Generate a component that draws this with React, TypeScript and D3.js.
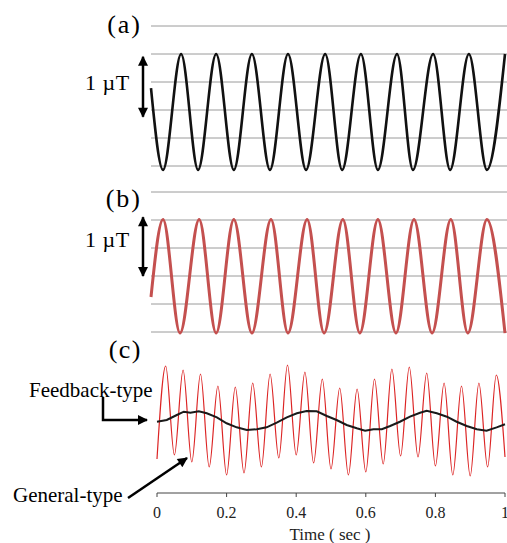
import React from 'react';
import * as d3 from 'd3';

const width = 507;
const height = 543;

// (a) sinusoid field, extrema (time in sec, field in µT)
const aTimes = [0, 0.034, 0.085, 0.133, 0.184, 0.234, 0.285, 0.336, 0.387, 0.438, 0.492, 0.54, 0.593, 0.641, 0.695, 0.74, 0.797, 0.845, 0.898, 0.949, 1.0];
const aValues = [0.39, -1.07, 1.0, -1.07, 1.0, -1.07, 1.0, -1.07, 1.0, -1.07, 1.0, -1.07, 1.0, -1.07, 1.0, -1.07, 1.0, -1.07, 1.0, -1.07, 1.0];

// (b) feedback-type output
const bTimes = [0, 0.034, 0.082, 0.136, 0.184, 0.234, 0.285, 0.339, 0.387, 0.441, 0.489, 0.542, 0.59, 0.641, 0.692, 0.743, 0.794, 0.847, 0.895, 0.949, 1.0];
const bValues = [-0.375, 1.01, -1.02, 1.01, -1.02, 1.01, -1.02, 1.01, -1.02, 1.01, -1.02, 1.01, -1.02, 1.01, -1.02, 1.01, -1.02, 1.01, -1.02, 1.01, -1.02];

// (c) general-type (red) extrema
const cRedTimes = [0, 0.025, 0.05, 0.075, 0.1, 0.125, 0.15, 0.175, 0.2, 0.225, 0.25, 0.275, 0.3, 0.325, 0.35, 0.375, 0.4, 0.425, 0.45, 0.475, 0.5, 0.525, 0.55, 0.575, 0.6, 0.625, 0.65, 0.675, 0.7, 0.725, 0.75, 0.775, 0.8, 0.825, 0.85, 0.875, 0.9, 0.925, 0.95, 0.975, 1.0];
const cRedValues = [-0.679, 0.982, -0.607, 0.911, -0.732, 0.839, -0.821, 0.625, -0.964, 0.607, -0.929, 0.679, -0.821, 0.839, -0.661, 1.0, -0.607, 0.875, -0.75, 0.75, -0.857, 0.589, -0.964, 0.571, -0.911, 0.75, -0.768, 0.929, -0.625, 0.964, -0.643, 0.857, -0.804, 0.679, -0.964, 0.625, -0.982, 0.679, -0.821, 0.821, -0.643];

// (c) feedback-type (black) residual
const cBlackTimes = [0, 0.028, 0.057, 0.077, 0.096, 0.12, 0.143, 0.172, 0.2, 0.229, 0.258, 0.287, 0.315, 0.344, 0.373, 0.402, 0.43, 0.459, 0.488, 0.516, 0.545, 0.574, 0.598, 0.622, 0.646, 0.67, 0.698, 0.727, 0.756, 0.775, 0.804, 0.833, 0.861, 0.89, 0.919, 0.947, 0.976, 1.0];
const cBlackValues = [-0.013, 0.018, 0.107, 0.166, 0.148, 0.173, 0.137, 0.066, -0.041, -0.113, -0.161, -0.148, -0.113, -0.03, 0.066, 0.137, 0.179, 0.173, 0.089, 0.018, -0.071, -0.13, -0.173, -0.148, -0.148, -0.089, -0.013, 0.077, 0.148, 0.184, 0.137, 0.077, -0.013, -0.089, -0.148, -0.173, -0.113, -0.059];

const gridValues = [1.5, 1, 0.5, 0, -0.5, -1];
const timeTicks = [0, 0.2, 0.4, 0.6, 0.8, 1];

const serif = '"Liberation Serif", "Times New Roman", serif';

export default function App() {
  const xTop = d3.scaleLinear([0, 1], [151, 505]);
  const x = d3.scaleLinear([0, 1], [157, 505]);
  const yA = d3.scaleLinear([0, 1], [110, 54]);
  const yB = d3.scaleLinear([0, 1], [276, 220]);
  const yC = d3.scaleLinear([0, 1], [421, 365]);

  const pts = (ts: number[], vs: number[]) => ts.map((t, i) => [t, vs[i]] as [number, number]);

  const lineA = d3.line<[number, number]>().x(d => xTop(d[0])).y(d => yA(d[1])).curve(d3.curveMonotoneX);
  const lineB = d3.line<[number, number]>().x(d => xTop(d[0])).y(d => yB(d[1])).curve(d3.curveMonotoneX);
  const lineCRed = d3.line<[number, number]>().x(d => x(d[0])).y(d => yC(d[1])).curve(d3.curveMonotoneX);
  const lineCBlack = d3.line<[number, number]>().x(d => x(d[0])).y(d => yC(d[1]));

  const axisY = 493;

  return (
    <svg
      width={width}
      height={height}
      style={{ position: 'absolute', left: 0, top: 0, background: '#fff' }}
      fontFamily={serif}
    >
      <defs>
        <marker id="head" viewBox="0 0 10 10" refX="9" refY="5" markerUnits="userSpaceOnUse"
          markerWidth="13" markerHeight="10" orient="auto-start-reverse">
          <path d="M0,0 L10,5 L0,10 z" fill="#000" />
        </marker>
      </defs>

      {/* panel (a) */}
      <g className="panel-a">
        {gridValues.map(v => (
          <line key={v} x1={151} x2={width} y1={yA(v)} y2={yA(v)} stroke="#9a9a9a" strokeWidth={1} />
        ))}
        <path d={lineA(pts(aTimes, aValues)) || ''} fill="none" stroke="#111" strokeWidth={2.6} />
        <text x={142} y={33} fontSize={26} letterSpacing={2} textAnchor="end">(a)</text>
        <text x={85} y={90} fontSize={22} letterSpacing={0.5}>1 µT</text>
        <line x1={143} x2={143} y1={yA(0.95)} y2={yA(-0.12)} stroke="#000" strokeWidth={2.5}
          markerStart="url(#head)" markerEnd="url(#head)" />
      </g>

      {/* panel (b) */}
      <g className="panel-b">
        {gridValues.map(v => (
          <line key={v} x1={151} x2={width} y1={yB(v)} y2={yB(v)} stroke="#9a9a9a" strokeWidth={1} />
        ))}
        <path d={lineB(pts(bTimes, bValues)) || ''} fill="none" stroke="#c4504f" strokeWidth={3} />
        <text x={142} y={207} fontSize={26} letterSpacing={2} textAnchor="end">(b)</text>
        <text x={85} y={247} fontSize={22} letterSpacing={0.5}>1 µT</text>
        <line x1={143} x2={143} y1={yB(1.05)} y2={yB(0)} stroke="#000" strokeWidth={2.5}
          markerStart="url(#head)" markerEnd="url(#head)" />
      </g>

      {/* panel (c) */}
      <g className="panel-c">
        <path d={lineCRed(pts(cRedTimes, cRedValues)) || ''} fill="none" stroke="#dc2424" strokeWidth={1.2} />
        <path d={lineCBlack(pts(cBlackTimes, cBlackValues)) || ''} fill="none" stroke="#1a1a1a" strokeWidth={2} />
        <text x={142} y={358} fontSize={26} letterSpacing={1.5} textAnchor="end">(c)</text>

        <text x={29} y={397} fontSize={21}>Feedback-type</text>
        <path d="M103,397 L103,420 L147,420" fill="none" stroke="#000" strokeWidth={2.5} markerEnd="url(#head)" />

        <text x={13} y={502} fontSize={21}>General-type</text>
        <line x1={128} y1={498} x2={187} y2={458} stroke="#000" strokeWidth={2.5} markerEnd="url(#head)" />

        <line x1={x(0)} x2={x(1)} y1={axisY} y2={axisY} stroke="#444" strokeWidth={1} />
        {timeTicks.map(t => (
          <g key={t}>
            <line x1={x(t)} x2={x(t)} y1={axisY} y2={axisY + 4} stroke="#444" strokeWidth={1} />
            <text x={x(t)} y={518} fontSize={16} textAnchor="middle" fill="#222">{d3.format('')(t)}</text>
          </g>
        ))}
        <text x={330} y={540} fontSize={17} textAnchor="middle" fill="#222">Time ( sec )</text>
      </g>
    </svg>
  );
}
